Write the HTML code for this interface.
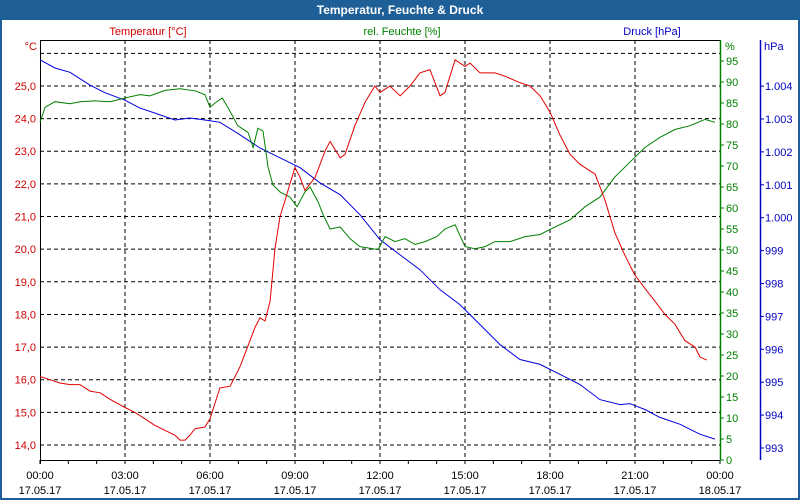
<!DOCTYPE html>
<html><head><meta charset="utf-8"><style>
body{margin:0;background:#fff;font-family:"Liberation Sans","DejaVu Sans",sans-serif;}
#wrap{position:relative;width:800px;height:500px;overflow:hidden;}
</style></head><body>
<div id="wrap">
<svg id="chart" width="800" height="500" font-family="Liberation Sans, DejaVu Sans, sans-serif" font-size="11">
<rect x="0" y="0" width="800" height="500" fill="#fff"/>
<rect x="0" y="0" width="800" height="20" fill="#1f5f97"/>
<rect x="1" y="1" width="798" height="498" fill="none" stroke="#1f5f97" stroke-width="2"/>
<text x="400" y="14" fill="#fff" font-weight="bold" text-anchor="middle" font-size="12">Temperatur, Feuchte &amp; Druck</text>
<text x="148" y="35" fill="#d00000" text-anchor="middle">Temperatur [°C]</text>
<text x="402" y="35" fill="#008000" text-anchor="middle">rel. Feuchte [%]</text>
<text x="652" y="35" fill="#0000c0" text-anchor="middle">Druck [hPa]</text>
<g id="grid"></g>
<g id="axes"></g>
<g id="series"></g>
</svg>
</div>
<script>
const hours=[0,0.35,0.7,1.06,1.41,1.76,2.12,2.47,3,3.35,3.71,4.06,4.41,4.76,4.94,5.12,5.29,5.47,5.82,6.0,6.35,6.71,7.06,7.41,7.59,7.76,7.94,8.12,8.29,8.47,8.65,8.82,9.0,9.18,9.35,9.53,9.71,10.06,10.24,10.59,10.76,11.12,11.47,11.82,12.0,12.35,12.71,13.06,13.41,13.76,14.12,14.29,14.65,15.0,15.18,15.53,16.06,16.41,16.94,17.29,17.65,18.0,18.35,18.71,19.06,19.41,19.59,19.94,20.29,20.65,21.0,21.35,21.71,22.06,22.41,22.76,23.12,23.29,23.53];
const temperature=[16.1,16.0,15.9,15.85,15.85,15.65,15.6,15.4,15.15,15.0,14.8,14.6,14.45,14.3,14.15,14.15,14.3,14.5,14.55,14.8,15.75,15.8,16.4,17.2,17.6,17.9,17.8,18.4,20.0,21.0,21.5,22.0,22.5,22.2,21.8,22.0,22.2,23.0,23.3,22.8,22.9,23.8,24.5,25.0,24.8,25.0,24.7,25.0,25.4,25.5,24.7,24.8,25.8,25.6,25.7,25.4,25.4,25.3,25.1,25.0,24.7,24.2,23.5,22.9,22.6,22.4,22.3,21.5,20.5,19.8,19.2,18.8,18.4,18.0,17.7,17.2,17.0,16.7,16.6];
const humHours=[0,0.18,0.53,1.06,1.41,1.94,2.47,3,3.53,3.88,4.41,4.94,5.47,5.82,6.0,6.18,6.43,6.63,6.98,7.34,7.52,7.69,7.87,8.05,8.22,8.47,8.82,9.07,9.35,9.53,9.82,9.99,10.24,10.59,10.94,11.29,11.93,12.18,12.53,12.88,13.24,13.59,14.01,14.29,14.65,15.0,15.35,15.71,16.06,16.59,17.12,17.65,18.18,18.71,19.24,19.76,20.29,20.82,21.35,21.88,22.41,22.94,23.47,23.82];
const humidity=[80.4,84,85.3,84.8,85.3,85.5,85.3,86.2,87,86.7,88,88.4,87.9,87,84,85,86.2,84,79.6,78,74.4,79,78.3,69.7,65.5,63.8,62.6,60.3,63.8,65,61.4,58.4,55,55.5,52.7,50.8,50.1,53.2,52,52.7,51.3,52,53.2,55,56,50.8,50.3,50.8,52,52,53.2,53.7,55.5,57.2,60.3,62.6,67.4,70.9,74.4,76.8,78.7,79.6,81.1,80.4];
const presHours=[0,0.53,1.06,1.76,2.29,3,3.53,4.06,4.76,5.29,5.82,6.35,7.06,7.76,8.47,9.18,9.88,10.59,11.29,12.0,12.71,13.41,14.12,14.82,15.53,16.24,16.94,17.65,18.35,19.06,19.76,20.47,20.82,21.35,21.88,22.59,23.29,23.82];
const pressure=[1004.8,1004.55,1004.42,1004.03,1003.8,1003.57,1003.33,1003.18,1002.97,1003.03,1002.97,1002.9,1002.52,1002.12,1001.82,1001.52,1001.06,1000.7,1000.09,999.33,998.87,998.42,997.81,997.36,996.75,996.14,995.69,995.54,995.24,994.93,994.47,994.32,994.35,994.17,993.93,993.72,993.42,993.27];
const xTickLabels=["00:00","03:00","06:00","09:00","12:00","15:00","18:00","21:00","00:00"];
const xDateLabels=["17.05.17","17.05.17","17.05.17","17.05.17","17.05.17","17.05.17","17.05.17","17.05.17","18.05.17"];
const tempTicks=[14,15,16,17,18,19,20,21,22,23,24,25];
const humTicks=[0,5,10,15,20,25,30,35,40,45,50,55,60,65,70,75,80,85,90,95];
const presTicks=[993,994,995,996,997,998,999,1000,1001,1002,1003,1004];

const X0=40,X1=720,YB=460,YT=40;
const xS=h=>X0+h*(X1-X0)/24;
const tS=t=>445-(t-14)*32.64;
const hS=v=>460-v*4.2;
const pS=p=>448-(p-993)*32.9;
const NS="http://www.w3.org/2000/svg";
function mk(tag,attrs,parent,text){const e=document.createElementNS(NS,tag);for(const k in attrs)e.setAttribute(k,attrs[k]);if(text!==undefined)e.textContent=text;parent.appendChild(e);return e;}
const grid=document.getElementById('grid'),axes=document.getElementById('axes'),series=document.getElementById('series');
// horizontal gridlines
for(let t=14;t<=26;t++){const l=mk('line',{x1:X0,x2:X1,y1:tS(t),y2:tS(t),stroke:'#000','stroke-dasharray':'4,3','stroke-width':1},grid);

}
for(let i=1;i<8;i++){const l=mk('line',{x1:xS(i*3),x2:xS(i*3),y1:YT,y2:YB,stroke:'#000','stroke-dasharray':'4,3','stroke-width':1},grid);

}
// axes
mk('line',{x1:X0,x2:X1,y1:YT+0.5,y2:YT+0.5,stroke:'#000'},axes);
const xa=mk('line',{x1:X0,x2:X1,y1:YB+0.5,y2:YB+0.5,stroke:'#000'},axes);


const la=mk('line',{x1:X0+0.5,x2:X0+0.5,y1:YT,y2:YB+4,stroke:'#000'},axes);


const ra=mk('line',{x1:X1+0.5,x2:X1+0.5,y1:YT,y2:YB,stroke:'#008000',"stroke-width":1.5},axes);


const pa=mk('line',{x1:760.5,x2:760.5,y1:YT,y2:YB,stroke:'#0000c0',"stroke-width":1.5},axes);


for(let h=0;h<=24;h++){mk('line',{x1:xS(h),x2:xS(h),y1:YB,y2:YB+4,stroke:'#000'},axes);}
xTickLabels.forEach((s,i)=>{const t=mk('text',{x:xS(i*3),y:479,'text-anchor':'middle',fill:'#000'},axes,s);


const d=mk('text',{x:xS(i*3),y:494,'text-anchor':'middle',fill:'#000'},axes,xDateLabels[i]);

});
tempTicks.forEach(v=>{const t=mk('text',{x:36,y:tS(v)+4,'text-anchor':'end',fill:'#d00000'},axes,v.toFixed(1).replace('.',','));

});
mk('text',{x:37,y:50,'text-anchor':'end',fill:'#d00000'},axes,'°C');
humTicks.forEach(v=>{mk('line',{x1:X1,x2:X1+4,y1:hS(v),y2:hS(v),stroke:'#008000'},axes);
const t=mk('text',{x:726,y:hS(v)+4,fill:'#008000'},axes,String(v));

});
mk('text',{x:725,y:50,fill:'#008000'},axes,'%');
presTicks.forEach(v=>{mk('line',{x1:760,x2:764,y1:pS(v),y2:pS(v),stroke:'#0000c0'},axes);
const s=v>=1000?'1.'+String(v).slice(1):String(v);
const t=mk('text',{x:765,y:pS(v)+4,fill:'#0000c0'},axes,s);

});
mk('text',{x:764,y:50,fill:'#0000c0'},axes,'hPa');
function line(xs,ys,sc,col,name){const p=mk('polyline',{points:xs.map((h,i)=>xS(h).toFixed(1)+','+sc(ys[i]).toFixed(1)).join(' '),fill:'none',stroke:col,'stroke-width':1},series);

}
line(presHours,pressure,pS,'#0000e0','pressure-line');
line(humHours,humidity,hS,'#008000','humidity-line');
line(hours,temperature,tS,'#e00000','temperature-line');
</script>
</body></html>
